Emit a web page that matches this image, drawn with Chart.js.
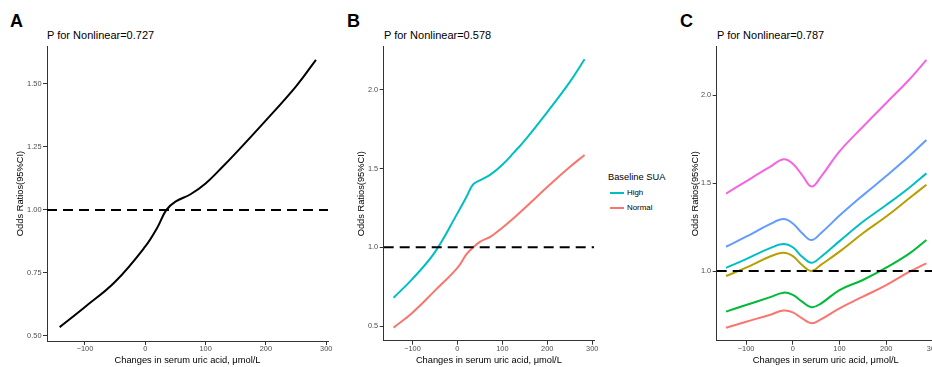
<!DOCTYPE html>
<html>
<head>
<meta charset="utf-8">
<script src="https://cdn.jsdelivr.net/npm/chart.js@4.4.1/dist/chart.umd.min.js"></script>
<style>
  html, body { margin: 0; padding: 0; width: 932px; height: 367px; overflow: hidden; background: #fff; }
  body { position: relative; font-family: Arial, "Liberation Sans", sans-serif; color: #000; }
  .panel { position: absolute; top: 0; height: 367px; }
  .tag { position: absolute; font-weight: bold; font-size: 18px; line-height: 1; }
  .ptitle { position: absolute; font-size: 11px; line-height: 1; white-space: nowrap; }
  .legend-title { position: absolute; left: 608px; top: 172.8px; font-size: 9.3px; line-height: 1; white-space: nowrap; }
  .legend-item { position: absolute; left: 627px; font-size: 7.9px; line-height: 1; white-space: nowrap; }
  .legend-key { position: absolute; left: 610px; width: 14px; height: 2px; }
</style>
</head>
<body>

<div class="tag" style="left:10px;top:11.5px">A</div>
<div class="tag" style="left:347px;top:11.5px">B</div>
<div class="tag" style="left:680px;top:11.5px">C</div>

<div class="ptitle" style="left:47px;top:30px">P for Nonlinear=0.727</div>
<div class="ptitle" style="left:384px;top:30px">P for Nonlinear=0.578</div>
<div class="ptitle" style="left:717px;top:30px">P for Nonlinear=0.787</div>

<div class="panel" style="left:0;width:340px"><canvas id="chartA"></canvas></div>
<div class="panel" style="left:340px;width:265px"><canvas id="chartB"></canvas></div>
<div class="panel" style="left:670px;width:275px"><canvas id="chartC"></canvas></div>

<div class="legend-title">Baseline SUA</div>
<div class="legend-key" style="top:192.3px;background:#00BFC4"></div>
<div class="legend-item" style="top:189.3px">High</div>
<div class="legend-key" style="top:207.3px;background:#F8766D"></div>
<div class="legend-item" style="top:204px">Normal</div>

<script>
// shared axes
const X_TICKS = [-100, 0, 100, 200, 300];
const X_LABELS = ['\u2212100', '0', '100', '200', '300'];

// A: overall
const A_X = [-142, -100, -50, 0, 20, 35, 50, 75, 100, 125, 150, 200, 250, 283];
const A_OR = [0.535, 0.615, 0.715, 0.855, 0.93, 1.0, 1.033, 1.062, 1.105, 1.163, 1.225, 1.355, 1.49, 1.595];
const A_Y_TICKS = [0.5, 0.75, 1.0, 1.25, 1.5];
const A_Y_LABELS = ['0.50', '0.75', '1.00', '1.25', '1.50'];

// B: by baseline SUA
const B_X = [-142, -100, -50, 0, 20, 35, 50, 75, 100, 125, 150, 200, 250, 283];
const B_HIGH = [0.68, 0.80, 0.97, 1.216, 1.32, 1.40, 1.425, 1.465, 1.525, 1.60, 1.68, 1.86, 2.05, 2.195];
const B_NORMAL = [0.49, 0.585, 0.725, 0.87, 0.955, 1.0, 1.035, 1.07, 1.125, 1.185, 1.25, 1.383, 1.51, 1.587];
const B_Y_TICKS = [0.5, 1.0, 1.5, 2.0];
const B_Y_LABELS = ['0.5', '1.0', '1.5', '2.0'];

// C: six subgroups, top to bottom
const C_X = [-143, -100, -50, -20, 0, 20, 40, 60, 100, 150, 200, 250, 286];
const C_PINK = [1.44, 1.51, 1.59, 1.635, 1.61, 1.545, 1.48, 1.535, 1.68, 1.82, 1.955, 2.09, 2.20];
const C_BLUE = [1.138, 1.195, 1.265, 1.295, 1.27, 1.215, 1.176, 1.215, 1.315, 1.43, 1.54, 1.655, 1.745];
const C_CYAN = [1.018, 1.068, 1.129, 1.153, 1.135, 1.081, 1.047, 1.08, 1.17, 1.28, 1.375, 1.475, 1.555];
const C_OLIVE = [0.972, 1.019, 1.081, 1.104, 1.085, 1.034, 1.0, 1.035, 1.11, 1.215, 1.31, 1.415, 1.49];
const C_GREEN = [0.769, 0.807, 0.85, 0.877, 0.864, 0.826, 0.794, 0.815, 0.892, 0.949, 1.019, 1.10, 1.176];
const C_RED = [0.678, 0.712, 0.75, 0.775, 0.765, 0.731, 0.703, 0.725, 0.788, 0.854, 0.92, 0.996, 1.044];
const C_Y_TICKS = [1.0, 1.5, 2.0];
const C_Y_LABELS = ['1.0', '1.5', '2.0'];

const REF_OR = 1;

const FONT = 'Arial, "Liberation Sans", sans-serif';

function toPoints(xs, ys) {
    return xs.map((x, i) => ({ x: x, y: ys[i] }));
}

function makePanel(id, cfg) {
    const datasets = [{
        // reference line OR = 1
        data: [{ x: cfg.xMin, y: REF_OR }, { x: cfg.xMax, y: REF_OR }],
        borderColor: '#000',
        borderWidth: 2,
        borderDash: [10, 6],
        pointRadius: 0
    }];
    cfg.series.forEach(s => {
        datasets.push({
            data: toPoints(s.x, s.y),
            borderColor: s.color,
            borderWidth: 2,
            pointRadius: 0,
            tension: 0.4
        });
    });

    new Chart(document.getElementById(id), {
        type: 'line',
        data: { datasets: datasets },
        options: {
            responsive: true,
            maintainAspectRatio: false,
            animation: false,
            layout: { padding: { left: 0, right: cfg.padRight, top: cfg.padTop, bottom: 0 } },
            plugins: { legend: { display: false }, tooltip: { enabled: false } },
            scales: {
                x: {
                    type: 'linear',
                    min: cfg.xMin,
                    max: cfg.xMax,
                    afterBuildTicks: s => { s.ticks = X_TICKS.map(v => ({ value: v })); },
                    afterFit: s => { s.height = cfg.xHeight; },
                    ticks: {
                        callback: v => X_LABELS[X_TICKS.indexOf(v)],
                        font: { family: FONT, size: 7.4 },
                        color: '#4D4D4D',
                        padding: 0,
                        maxRotation: 0,
                        autoSkip: false
                    },
                    grid: { drawOnChartArea: false, drawTicks: true, tickLength: 4, color: '#333' },
                    border: { display: true, color: '#333', width: 1 },
                    title: {
                        display: true,
                        text: 'Changes in serum uric acid, \u03bcmol/L',
                        font: { family: FONT, size: 9.3 },
                        color: '#000',
                        padding: { top: 0, bottom: 1.4 }
                    }
                },
                y: {
                    type: 'linear',
                    min: cfg.yMin,
                    max: cfg.yMax,
                    afterBuildTicks: s => { s.ticks = cfg.yTicks.map(v => ({ value: v })); },
                    afterFit: s => { s.width = cfg.yWidth; },
                    ticks: {
                        callback: v => cfg.yLabels[cfg.yTicks.indexOf(v)],
                        font: { family: FONT, size: 7.4 },
                        color: '#4D4D4D',
                        padding: 1.5,
                        autoSkip: false
                    },
                    grid: { drawOnChartArea: false, drawTicks: true, tickLength: 4, color: '#333' },
                    border: { display: true, color: '#333', width: 1 },
                    title: {
                        display: true,
                        text: 'Odds Ratios(95%CI)',
                        font: { family: FONT, size: 9.3 },
                        color: '#000',
                        padding: { top: cfg.yTitlePad, bottom: 0 }
                    }
                }
            }
        }
    });
}

makePanel('chartA', {
    xMin: -163, xMax: 303, yMin: 0.48, yMax: 1.65,
    yTicks: A_Y_TICKS, yLabels: A_Y_LABELS,
    yWidth: 47, xHeight: 26, padTop: 46, padRight: 12, yTitlePad: 15.1,
    series: [{ x: A_X, y: A_OR, color: '#000000' }]
});

makePanel('chartB', {
    xMin: -164, xMax: 304, yMin: 0.407, yMax: 2.275,
    yTicks: B_Y_TICKS, yLabels: B_Y_LABELS,
    yWidth: 43.7, xHeight: 26.3, padTop: 46.7, padRight: 11, yTitlePad: 16.1,
    series: [
        { x: B_X, y: B_HIGH, color: '#00BFC4' },
        { x: B_X, y: B_NORMAL, color: '#F8766D' }
    ]
});

makePanel('chartC', {
    xMin: -163, xMax: 304, yMin: 0.604, yMax: 2.275,
    yTicks: C_Y_TICKS, yLabels: C_Y_LABELS,
    yWidth: 46.7, xHeight: 26.3, padTop: 46.7, padRight: 10.2, yTitlePad: 19.4,
    series: [
        { x: C_X, y: C_PINK, color: '#F564E3' },
        { x: C_X, y: C_BLUE, color: '#619CFF' },
        { x: C_X, y: C_CYAN, color: '#00BFC4' },
        { x: C_X, y: C_OLIVE, color: '#B79F00' },
        { x: C_X, y: C_GREEN, color: '#00BA38' },
        { x: C_X, y: C_RED, color: '#F8766D' }
    ]
});
</script>
</body>
</html>
